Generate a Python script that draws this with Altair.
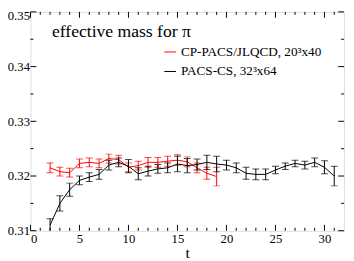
import altair as alt
import pandas as pd

# PACS-CS, 32^3x64
t_pacs = list(range(2, 32))
m_pacs = [0.3110, 0.3150, 0.3175, 0.3192, 0.3198, 0.3203, 0.3220, 0.3225, 0.3218, 0.3204,
          0.3209, 0.3213, 0.3215, 0.3222, 0.3219, 0.3221, 0.3225, 0.3222, 0.3220, 0.3215,
          0.3205, 0.3203, 0.3203, 0.3211, 0.3218, 0.3223, 0.3220, 0.3225, 0.3216, 0.3200]
e_pacs = [0.0012, 0.0014, 0.0012, 0.0008, 0.0008, 0.0009, 0.0009, 0.0008, 0.0012, 0.0011,
          0.0009, 0.0008, 0.0009, 0.0014, 0.0013, 0.0010, 0.0013, 0.0014, 0.0009, 0.0009,
          0.0011, 0.0010, 0.0010, 0.0007, 0.0006, 0.0006, 0.0007, 0.0008, 0.0012, 0.0018]

# CP-PACS/JLQCD, 20^3x40
t_cp = list(range(2, 20))
m_cp = [0.3215, 0.3208, 0.3206, 0.3223, 0.3225, 0.3223, 0.3232, 0.3230, 0.3216, 0.3219,
        0.3225, 0.3225, 0.3227, 0.3229, 0.3226, 0.3215, 0.3205, 0.3199]
e_cp = [0.0009, 0.0008, 0.0008, 0.0008, 0.0008, 0.0008, 0.0008, 0.0008, 0.0008, 0.0008,
        0.0009, 0.0009, 0.0009, 0.0010, 0.0009, 0.0009, 0.0011, 0.0017]

x_major = [0, 5, 10, 15, 20, 25, 30]
x_minor = [v for v in range(1, 32) if v % 5 != 0]
y_major = [0.31, 0.32, 0.33, 0.34, 0.35]
y_minor = [0.315, 0.325, 0.335, 0.345]

title_text = "effective mass for \u03c0"
legend_labels = ["CP-PACS/JLQCD, 20\u00b3x40", "PACS-CS, 32\u00b3x64"]
legend_colors = ["#ff0000", "#000000"]

W, H = 321, 224
FONT = "Liberation Serif"

def series(t, m, e):
    return pd.DataFrame({"t": t, "m": m, "lo": [a - b for a, b in zip(m, e)],
                         "hi": [a + b for a, b in zip(m, e)]})

xs = alt.Scale(domain=[0, 32], nice=False, zero=False)
ys = alt.Scale(domain=[0.31, 0.35], nice=False, zero=False)

def draw(df, color):
    base = alt.Chart(df)
    line = base.mark_line(color=color, strokeWidth=1, clip=True).encode(
        x=alt.X("t:Q", scale=xs), y=alt.Y("m:Q", scale=ys))
    bars = base.mark_rule(color=color, strokeWidth=1, clip=True).encode(
        x=alt.X("t:Q", scale=xs), y=alt.Y("lo:Q", scale=ys), y2="hi:Q")
    cap_lo = base.mark_tick(color=color, orient="horizontal", size=7, thickness=1, clip=True).encode(
        x=alt.X("t:Q", scale=xs), y=alt.Y("lo:Q", scale=ys))
    cap_hi = base.mark_tick(color=color, orient="horizontal", size=7, thickness=1, clip=True).encode(
        x=alt.X("t:Q", scale=xs), y=alt.Y("hi:Q", scale=ys))
    return [line, bars, cap_lo, cap_hi]

axis_df = pd.DataFrame({"t": [0], "m": [0.31]})
axes = alt.Chart(axis_df).mark_point(opacity=0).encode(
    x=alt.X("t:Q", scale=xs, title="t",
            axis=alt.Axis(values=x_major, ticks=False, domain=False, grid=False,
                          labelFont=FONT, labelFontSize=13, labelColor="black",
                          labelPadding=2, titleFont=FONT, titleFontSize=16,
                          titleFontWeight="normal", titleColor="black", titlePadding=-1)),
    y=alt.Y("m:Q", scale=ys, title=None,
            axis=alt.Axis(values=y_major, format=".2f", ticks=False, domain=False, grid=False,
                          labelFont=FONT, labelFontSize=13, labelColor="black",
                          labelPadding=1,
                          labelOffset={"condition": {"test": "datum.value > 0.3495", "value": 4},
                                       "value": 0})),
)

def xticks(vals, length):
    df = pd.DataFrame({"v": vals})
    b = alt.Chart(df).mark_rule(color="black", strokeWidth=1)
    bottom = b.encode(x=alt.X("v:Q", scale=xs), y=alt.value(H), y2=alt.value(H - length))
    top = b.encode(x=alt.X("v:Q", scale=xs), y=alt.value(0), y2=alt.value(length))
    return [bottom, top]

def yticks(vals, length):
    df = pd.DataFrame({"v": vals})
    b = alt.Chart(df).mark_rule(color="black", strokeWidth=1)
    left = b.encode(y=alt.Y("v:Q", scale=ys), x=alt.value(0), x2=alt.value(length))
    right = b.encode(y=alt.Y("v:Q", scale=ys), x=alt.value(W), x2=alt.value(W - length))
    return [left, right]

ticks = xticks(x_major, 6) + xticks(x_minor, 3) + yticks(y_major, 6) + yticks(y_minor, 3)

title = alt.Chart(pd.DataFrame({"s": [title_text]})).mark_text(
    font=FONT, fontSize=18, align="left", baseline="middle", color="black").encode(
    text="s:N", x=alt.value(22), y=alt.value(21))

leg_lines = []
leg_texts = []
for i, (lab, col) in enumerate(zip(legend_labels, legend_colors)):
    d = pd.DataFrame({"label": [lab]})
    yy = 41 + i * 20
    leg_lines.append(alt.Chart(d).mark_rule(color=col, strokeWidth=1).encode(
        x=alt.value(137), x2=alt.value(149), y=alt.value(yy)))
    leg_texts.append(alt.Chart(d).mark_text(
        font=FONT, fontSize=13.5, align="left", baseline="middle", color="black").encode(
        text="label:N", x=alt.value(154), y=alt.value(yy)))

layers = [axes] + draw(series(t_cp, m_cp, e_cp), "#ff0000") + \
         draw(series(t_pacs, m_pacs, e_pacs), "#000000") + ticks + [title] + leg_lines + leg_texts

chart = alt.layer(*layers).properties(
    width=W, height=H,
    autosize=alt.AutoSizeParams(type="none"),
    padding={"left": 23, "top": 1, "right": 2, "bottom": 28},
).configure_view(stroke="black", strokeWidth=1).configure(background="white")

chart.save("out.html", embed_options={"renderer": "svg", "actions": False})
